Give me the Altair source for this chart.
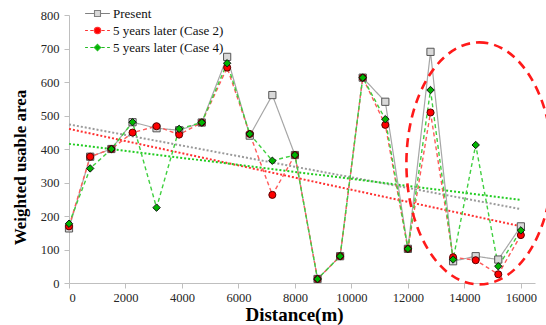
import altair as alt
import pandas as pd

# ---- data ----
distance = [0, 750, 1500, 2250, 3100, 3900, 4700, 5600, 6400, 7200, 8000,
            8800, 9600, 10400, 11200, 12000, 12800, 13600, 14400, 15200, 16000]
present = [163, 377, 400, 480, 462, 456, 479, 675, 440, 561, 382,
           12, 80, 613, 541, 102, 690, 65, 80, 70, 169]
case2 = [169, 377, 400, 449, 468, 443, 479, 643, 445, 263, 382,
         12, 80, 613, 472, 102, 509, 77, 68, 26, 143]
case4 = [177, 342, 400, 480, 225, 460, 479, 656, 445, 365, 382,
         12, 80, 613, 489, 102, 576, 70, 412, 50, 157]
series_names = ["Present", "5 years later (Case 2)", "5 years later (Case 4)"]
x_ticks = [0, 2000, 4000, 6000, 8000, 10000, 12000, 14000, 16000]
y_ticks = [0, 100, 200, 300, 400, 500, 600, 700, 800]

# annotation ellipse centre (data units)
ellipse_x = [14530]
ellipse_y = [357]

rows = []
for name, vals in zip(series_names, [present, case2, case4]):
    for d, v in zip(distance, vals):
        rows.append({"dist": d, "value": v, "series": name})
df = pd.DataFrame(rows)

SERIF = "Liberation Serif"
xscale = alt.Scale(domain=[0, 16500], nice=False, zero=False)
yscale = alt.Scale(domain=[0, 800], nice=False)

X = alt.X("dist:Q", scale=xscale,
          axis=alt.Axis(values=x_ticks, title="Distance(m)", format="d",
                        titleX=225, titleY=37, titleBaseline="alphabetic",
                        titleAlign="center", titleFontSize=19,
                        labelPadding=3))
Y = alt.Y("value:Q", scale=yscale,
          axis=alt.Axis(values=y_ticks, title="Weighted usable area",
                        titleX=-44, titleY=152, titleBaseline="alphabetic",
                        titleAlign="center", titleAngle=-90, titleFontSize=17,
                        labelPadding=5))

base = alt.Chart(df)

line_colors = ["#a6a6a6", "#ff5a5a", "#3fcf3f"]
trend_colors = ["#9a9a9a", "#ff3030", "#22cc22"]
line_dash = [[1, 0], [4, 3], [4, 3]]

layers = []
for name, col in zip(series_names, trend_colors):
    layers.append(
        base.transform_filter(alt.datum.series == name)
        .transform_regression("dist", "value")
        .mark_line(color=col, strokeWidth=2, strokeDash=[2, 2])
        .encode(x=X, y=Y)
    )
for name, col, dash, w in zip(series_names, line_colors, line_dash, [1.2, 1.4, 1.4]):
    layers.append(
        base.transform_filter(alt.datum.series == name)
        .mark_line(color=col, strokeWidth=w, strokeDash=dash)
        .encode(x=X, y=Y)
    )

marker_specs = [
    ("Present", "square", 52, "#d9d9d9", "#555555"),
    ("5 years later (Case 2)", "circle", 50, "#ff0000", "#5a0000"),
    ("5 years later (Case 4)", "diamond", 55, "#00b400", "#111111"),
]
for name, shp, sz, fillc, strokec in marker_specs:
    layers.append(
        base.transform_filter(alt.datum.series == name)
        .mark_point(shape=shp, size=sz, fill=fillc, stroke=strokec,
                    strokeWidth=1, filled=True, opacity=1)
        .encode(x=X, y=Y)
    )

# legend symbols (line + marker) as custom paths
legend_paths = [
    "M-3.1,0H-0.75M0.75,0H3.1M-0.75,-0.75H0.75V0.75H-0.75Z",
    "M-3.1,0H-2.4M-1.8,0H-1.0M1.0,0H1.8M2.4,0H3.1"
    "M0,-0.8C0.442,-0.8,0.8,-0.442,0.8,0C0.8,0.442,0.442,0.8,0,0.8"
    "C-0.442,0.8,-0.8,0.442,-0.8,0C-0.8,-0.442,-0.442,-0.8,0,-0.8Z",
    "M-3.1,0H-2.4M-1.8,0H-1.0M1.0,0H1.8M2.4,0H3.1M0,-0.8L0.8,0L0,0.8L-0.8,0Z",
]
legend_fill = ["#d9d9d9", "#ff0000", "#00b400"]
legend_stroke = ["#808080", "#ff3030", "#22bb22"]
leg = alt.Legend(orient="none", legendX=22, legendY=-8, title=None,
                 labelFont=SERIF, labelFontSize=13, labelColor="#111111",
                 labelOffset=9, symbolSize=64, symbolStrokeWidth=1.1,
                 padding=0, rowPadding=3)
layers.append(
    base.transform_filter("false")
    .mark_point(filled=True, opacity=1, strokeWidth=1.1)
    .encode(
        x=X, y=Y,
        shape=alt.Shape("series:N", scale=alt.Scale(domain=series_names, range=legend_paths), legend=leg),
        fill=alt.Fill("series:N", scale=alt.Scale(domain=series_names, range=legend_fill), legend=leg),
        stroke=alt.Stroke("series:N", scale=alt.Scale(domain=series_names, range=legend_stroke), legend=leg),
    )
)

# red dashed ellipse annotation
ellipse_path = ("M0,-1C0.333,-1,0.603,-0.5523,0.603,0C0.603,0.5523,0.333,1,0,1"
                "C-0.333,1,-0.603,0.5523,-0.603,0C-0.603,-0.5523,-0.333,-1,0,-1Z")
ell_df = pd.DataFrame({"dist": ellipse_x, "value": ellipse_y})
layers.append(
    alt.Chart(ell_df)
    .mark_point(shape=ellipse_path, size=58564, filled=False, stroke="#ff1a1a",
                strokeWidth=2.6, strokeDash=[9, 6], opacity=1)
    .encode(x=X, y=Y)
)

chart = (
    alt.layer(*layers)
    .properties(width=466, height=268,
                autosize=alt.AutoSizeParams(type="none"),
                padding={"left": 69, "top": 15, "right": 11, "bottom": 42},
                background="white")
    .configure_view(stroke=None)
    .configure_axis(grid=False, domainColor="#bfbfbf", tickColor="#bfbfbf",
                    tickSize=5, labelFont=SERIF, labelFontSize=12.5,
                    labelColor="#262626", titleFont=SERIF,
                    titleFontWeight="bold", titleColor="#000000")
)

chart.save("out.html", embed_options={"renderer": "svg", "actions": False})
